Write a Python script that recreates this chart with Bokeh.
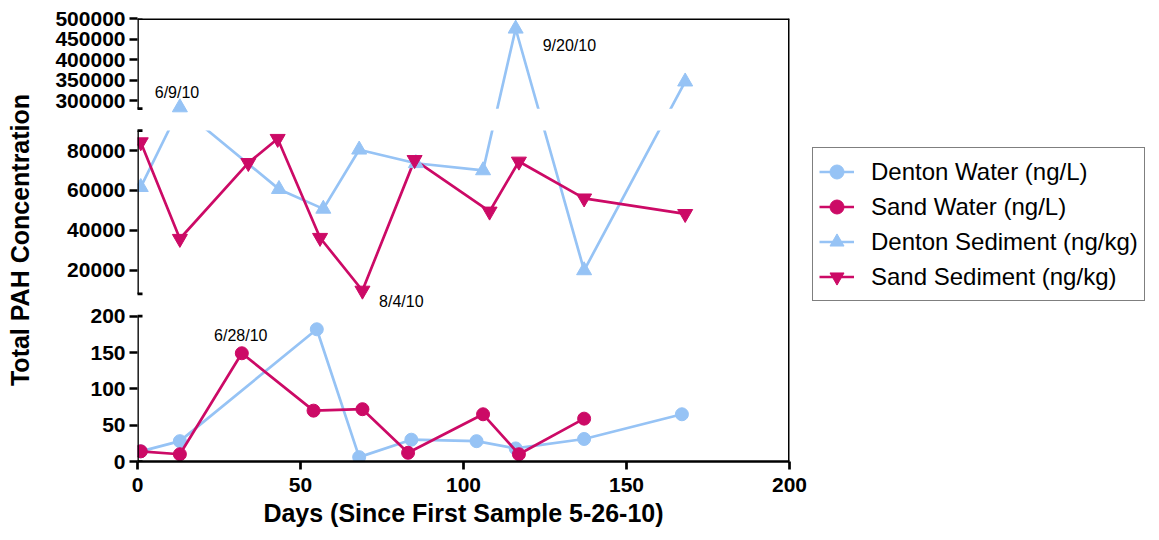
from bokeh.plotting import figure
from bokeh.models import (Range1d, FixedTicker, CustomJSTickFormatter, Whisker, TeeHead, Span,
                          ColumnDataSource, Legend, LegendItem)
from bokeh.core.properties import value
from bokeh.embed import file_html
from bokeh.resources import INLINE

# ---------------- data ----------------
denton_water_days = [1, 13, 55, 68, 84, 104, 116, 137, 167]
denton_water = [14, 28, 182, 6, 30, 28, 18, 31, 65]
sand_water_days = [1, 13, 32, 54, 69, 83, 106, 117, 137]
sand_water = [14, 10, 149, 70, 72, 12, 65, 10, 59]
denton_sed_days = [1, 13, 43.4, 57, 68, 85.4, 106, 116, 137, 168]
denton_sed = [61600, 283000, 60600, 50700, 80400, 73600, 70000, 475000, 19800, 346000]
sand_sed_days = [1, 13, 34, 43, 56, 69, 85, 108, 117, 137, 168]
sand_sed = [84200, 35700, 73800, 85900, 36200, 9700, 75300, 49400, 74500, 56000, 48200]

series_names = ["Denton Water (ng/L)", "Sand Water (ng/L)",
                "Denton Sediment (ng/kg)", "Sand Sediment (ng/kg)"]

# broken y axis: value ranges of the three segments and their ticks
y_segments = [(0, 200), (8000, 90000), (280000, 500000)]
y_ticks = [[0, 50, 100, 150, 200],
           [20000, 40000, 60000, 80000],
           [300000, 350000, 400000, 450000, 500000]]
x_ticks = [0, 50, 100, 150, 200]

notes = ["6/9/10", "6/28/10", "8/4/10", "9/20/10"]
note_days = [5.3, 23.5, 74.1, 124.3]
note_values = [320000, 173, 4300, 434000]

# ---------------- layout of the broken axis (pixels from frame bottom) ----------------
FRAME_H = 443
seg_px = [(0, 145.3), (167.6, 330.9), (352.8, FRAME_H)]

def seg_index(v):
    if v <= 200:
        return 0
    if v < 200000:
        return 1
    return 2

def to_v(v):
    i = seg_index(v)
    lo, hi = y_segments[i]
    a, b = seg_px[i]
    return a + (v - lo) / (hi - lo) * (b - a)

BLUE = "#96C3F5"
MAG = "#CC0A66"
FONT = "Liberation Sans"

p = figure(frame_width=652, frame_height=FRAME_H, x_range=Range1d(0, 200), y_range=Range1d(0, FRAME_H),
           output_backend="svg", toolbar_location=None,
           min_border_left=137, min_border_right=0, min_border_top=18, min_border_bottom=79)
p.outline_line_color = None
p.grid.visible = False
p.background_fill_color = "white"
p.border_fill_color = "white"

def src(days, vals):
    return ColumnDataSource(dict(x=days, y=[to_v(v) for v in vals], raw=vals))

s_dw = src(denton_water_days, denton_water)
s_sw = src(sand_water_days, sand_water)
s_ds = src(denton_sed_days, denton_sed)
s_ss = src(sand_sed_days, sand_sed)

LW = 2.7
l_dw = p.line("x", "y", source=s_dw, line_color=BLUE, line_width=LW)
m_dw = p.scatter("x", "y", source=s_dw, marker="circle", size=13, fill_color=BLUE, line_color=BLUE)
l_sw = p.line("x", "y", source=s_sw, line_color=MAG, line_width=LW)
m_sw = p.scatter("x", "y", source=s_sw, marker="circle", size=13, fill_color=MAG, line_color=MAG)
l_ds = p.line("x", "y", source=s_ds, line_color=BLUE, line_width=LW)
l_ss = p.line("x", "y", source=s_ss, line_color=MAG, line_width=LW)

# blank the gaps between the axis segments
p.quad(left=0, right=200, bottom=[seg_px[0][1], seg_px[1][1]], top=[seg_px[1][0], seg_px[2][0]],
       fill_color="white", line_color=None)

m_ds = p.scatter("x", "y", source=s_ds, marker="triangle", size=15, fill_color=BLUE, line_color=BLUE)
m_ss = p.scatter("x", "y", source=s_ss, marker="inverted_triangle", size=15, fill_color=MAG, line_color=MAG)

p.text(x=note_days, y=[to_v(v) for v in note_values], text=notes,
       text_font=value(FONT), text_font_size="16px", text_baseline="alphabetic",
       text_align="left", text_color="black")

# ---------------- axes ----------------
xa = p.xaxis[0]
xa.ticker = FixedTicker(ticks=x_ticks)
xa.axis_label = "Days (Since First Sample 5-26-10)"
xa.axis_line_width = LW
xa.major_tick_line_width = LW
xa.major_tick_out = 8
xa.major_tick_in = 0
xa.minor_tick_line_color = None
xa.major_label_text_font = FONT
xa.major_label_text_font_size = "21px"
xa.major_label_text_font_style = "bold"
xa.major_label_text_color = "black"
xa.major_label_standoff = 8
xa.axis_label_text_font = FONT
xa.axis_label_text_font_size = "25px"
xa.axis_label_text_font_style = "bold"
xa.axis_label_text_color = "black"
xa.axis_label_standoff = 4

tick_pos = [to_v(t) for seg in y_ticks for t in seg]
tick_lab = [str(t) for seg in y_ticks for t in seg]
ya = p.yaxis[0]
ya.ticker = FixedTicker(ticks=tick_pos)
ya.formatter = CustomJSTickFormatter(args=dict(pos=tick_pos, lab=tick_lab), code="""
let best = 0, d = 1e99;
for (let i = 0; i < pos.length; i++) {
  const dd = Math.abs(pos[i] - tick);
  if (dd < d) { d = dd; best = i; }
}
return lab[best];
""")
ya.axis_label = "Total PAH Concentration"
ya.axis_line_color = None
ya.major_tick_line_width = LW
ya.major_tick_out = 8
ya.major_tick_in = 0
ya.minor_tick_line_color = None
ya.major_label_text_font = FONT
ya.major_label_text_font_size = "21px"
ya.major_label_text_font_style = "bold"
ya.major_label_text_color = "black"
ya.major_label_standoff = 4
ya.axis_label_text_font = FONT
ya.axis_label_text_font_size = "25px"
ya.axis_label_text_font_style = "bold"
ya.axis_label_text_color = "black"
ya.axis_label_standoff = 18

# broken y axis line with end caps
wsrc = ColumnDataSource(dict(base=[0, 0, 0], lower=[a for a, b in seg_px], upper=[b for a, b in seg_px]))
w = Whisker(source=wsrc, base="base", lower="lower", upper="upper", dimension="height",
            line_width=LW, line_color="black", level="overlay",
            lower_head=TeeHead(size=10, line_width=LW, line_color="black"),
            upper_head=TeeHead(size=10, line_width=LW, line_color="black"))
p.add_layout(w)

# top and right frame lines
p.add_layout(Span(location=200, dimension="height", line_width=3, line_color="black", level="overlay"))
p.add_layout(Span(location=FRAME_H, dimension="width", line_width=3, line_color="black", level="overlay"))

# ---------------- legend ----------------
legend = Legend(items=[
    LegendItem(label=series_names[0], renderers=[l_dw, m_dw]),
    LegendItem(label=series_names[1], renderers=[l_sw, m_sw]),
    LegendItem(label=series_names[2], renderers=[l_ds, m_ds]),
    LegendItem(label=series_names[3], renderers=[l_ss, m_ss]),
], location=(23, 160))
legend.label_text_font = FONT
legend.label_text_font_size = "24px"
legend.label_text_color = "black"
legend.glyph_width = 35
legend.glyph_height = 35
legend.label_height = 35
legend.spacing = 0
legend.padding = 6
legend.margin = 0
legend.label_standoff = 17
legend.border_line_color = "black"
legend.border_line_width = 1.3
legend.background_fill_color = "white"
legend.background_fill_alpha = 1
p.add_layout(legend, "right")

open("out.html", "w").write(file_html(p, INLINE))
